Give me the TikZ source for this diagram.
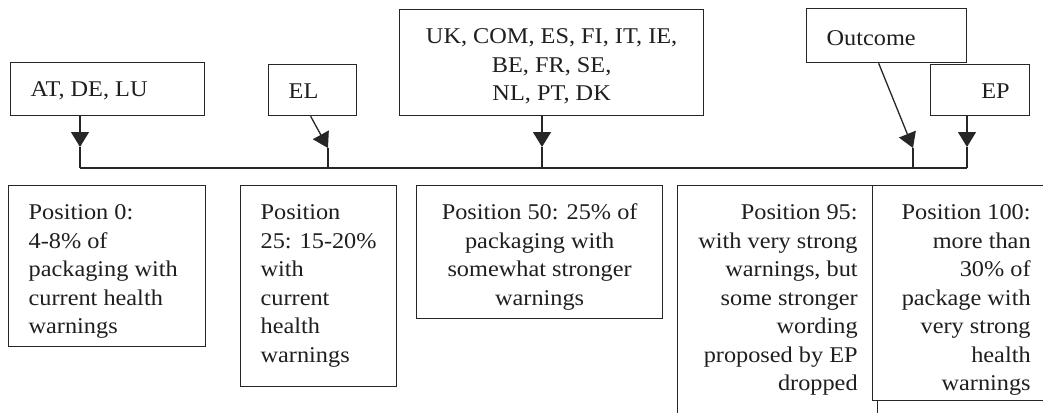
\documentclass[tikz,border=0pt]{standalone}
\usepackage{fontspec}
\setmainfont{Liberation Serif}[FakeStretch=1.08]
\usetikzlibrary{arrows.meta,calc}
\newcommand\pbx[4]{\parbox[t][#2][t]{#1}{#3\strut #4}}
\tikzset{
  bx/.style={draw=black!85, line width=1.3pt, fill=white, anchor=north west,
    inner xsep=20pt, inner ysep=14pt, text=black!88,
    font=\fontsize{22.5}{28.5}\selectfont},
  ln/.style={draw=black!85, line width=1.3pt},
  arr/.style={ln, -{Triangle[width=18pt,length=15pt]}}
}
\begin{document}
\begin{tikzpicture}[x=1pt,y=-1pt]
\useasboundingbox (0,0) rectangle (1043,412);
\clip (0,0) rectangle (1043,412);
% top boxes
\node[bx] (A)  at (10,62)  {\pbx{154pt}{25pt}{\raggedright}{AT, DE, LU}};
\node[bx] (EL) at (268,64) {\pbx{48pt}{23pt}{\raggedright}{EL}};
\node[bx] (UK) at (399,9)  {\pbx{264pt}{78pt}{\centering}{UK, COM, ES, FI, IT, IE,\\ BE, FR, SE,\\ NL, PT, DK}};
\node[bx, inner ysep=17pt] (OC) at (806,8) {\pbx{120pt}{20pt}{\raggedright}{Outcome}};
\node[bx] (EP) at (930,64) {\pbx{59pt}{23pt}{\raggedleft}{EP}};
% tips and junctions
\coordinate (t1) at (80,147);  \coordinate (j1) at (80,168);
\coordinate (t2) at (328,148); \coordinate (j2) at (328,168);
\coordinate (t3) at (542,147); \coordinate (j3) at (542,168);
\coordinate (t4) at (913,148); \coordinate (j4) at (913,168);
\coordinate (t5) at (967,147); \coordinate (j5) at (967,168);
% connectors
\draw[arr] (A.south -| t1) -- (t1);
\draw[ln] (t1) -- (j1);
\draw[arr] ([xshift=-2pt]EL.south) -- (t2);
\draw[ln] (t2) -- (j2);
\draw[arr] (UK.south -| t3) -- (t3);
\draw[ln] (t3) -- (j3);
\draw[arr] ([xshift=-8pt]OC.south) -- (t4);
\draw[ln] (t4) -- (j4);
\draw[arr] (EP.south -| t5) -- (t5);
\draw[ln] (t5) -- (j5);
\draw[ln] (j1) -- (j5);
% bottom boxes
\node[bx] (B1) at (8,185)   {\pbx{157pt}{133pt}{\raggedright}{Position 0:\\ 4-8\% of\\ packaging with\\ current health\\ warnings}};
\node[bx] (B2) at (240,185) {\pbx{116pt}{173pt}{\raggedright}{Position\\ 25: 15-20\%\\ with\\ current\\ health\\ warnings}};
\node[bx] (B3) at (416,185) {\pbx{206pt}{105pt}{\centering}{Position 50: 25\% of\\ packaging with\\ somewhat stronger\\ warnings}};
\node[bx] (B4) at (677,185) {\pbx{160pt}{217pt}{\raggedleft}{Position 95:\\ with very strong\\ warnings, but\\ some stronger\\ wording\\ proposed by EP\\ dropped}};
\node[bx] (B5) at (872,185) {\pbx{138pt}{187pt}{\raggedleft}{Position 100:\\ more than\\ 30\% of\\ package with\\ very strong\\ health\\ warnings}};
\end{tikzpicture}
\end{document}
